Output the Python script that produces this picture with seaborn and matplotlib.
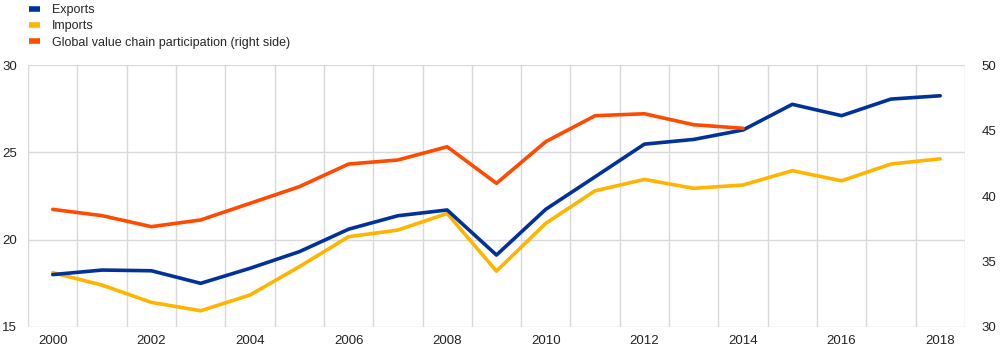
import numpy as np
import pandas as pd
import matplotlib.pyplot as plt
import seaborn as sns
from matplotlib.lines import Line2D

years = list(range(2000, 2019))
exports = [18.0, 18.26, 18.22, 17.5, 18.36, 19.31, 20.6, 21.37, 21.7, 19.12,
           21.74, 23.6, 25.47, 25.74, 26.28, 27.75, 27.1, 28.05, 28.24]
imports = [18.11, 17.4, 16.41, 15.93, 16.83, 18.45, 20.17, 20.55, 21.5, 18.2,
           20.94, 22.8, 23.45, 22.94, 23.13, 23.95, 23.37, 24.33, 24.63]
gvc = [38.98, 38.5, 37.66, 38.17, 39.44, 40.71, 42.44, 42.75, 43.76, 40.97,
       44.15, 46.13, 46.28, 45.44, 45.17, np.nan, np.nan, np.nan, np.nan]

labels = ['Exports', 'Imports', 'Global value chain participation (right side)']
colors = ['#003299', '#FFB400', '#FF4B00']

sns.set_style('white')
plt.rcParams['font.family'] = ['Liberation Sans', 'DejaVu Sans']

df = pd.DataFrame({'year': years, 'Exports': exports, 'Imports': imports, 'GVC': gvc})

fig = plt.figure(figsize=(10.04, 3.54), dpi=100)
ax = fig.add_axes([0.028, 0.0763, 0.933, 0.740])
ax2 = ax.twinx()

sns.lineplot(data=df, x='year', y='Exports', ax=ax, color=colors[0], linewidth=2.6, zorder=3)
sns.lineplot(data=df, x='year', y='Imports', ax=ax, color=colors[1], linewidth=2.6, zorder=2)
sns.lineplot(data=df, x='year', y='GVC', ax=ax2, color=colors[2], linewidth=2.6)

ax.set_xlim(1999.5, 2018.5)
ax.set_ylim(15, 30)
ax2.set_ylim(30, 50)
ax.set_yticks([15, 20, 25, 30])
ax2.set_yticks([30, 35, 40, 45, 50])
ax.set_xticks(years[::2])
ax.set_xticks(np.arange(1999.5, 2019, 1), minor=True)

ax.grid(False)
ax.grid(True, which='minor', axis='x', color='#d9d9d9', linewidth=1)
ax.grid(True, which='major', axis='y', color='#d9d9d9', linewidth=1)
ax2.grid(False)
ax.set_axisbelow(True)

for a in (ax, ax2):
    a.set_xlabel('')
    a.set_ylabel('')
    for s in a.spines.values():
        s.set_visible(False)
    a.tick_params(which='both', length=0, labelsize=9.5, colors='#222222')
ax.tick_params(axis='y', pad=8)
ax2.tick_params(axis='y', pad=12)
ax.tick_params(axis='x', pad=6)

# legend keys are short flat bars
handles = [Line2D([0], [0], color=c, linewidth=4, solid_capstyle='butt') for c in colors]
fig.legend(handles, labels, loc='upper left', bbox_to_anchor=(0.024, 1.003),
           frameon=False, fontsize=9, handlelength=0.9, handletextpad=0.9,
           labelspacing=0.35, borderaxespad=0)

fig.savefig('out.png', dpi=100)
